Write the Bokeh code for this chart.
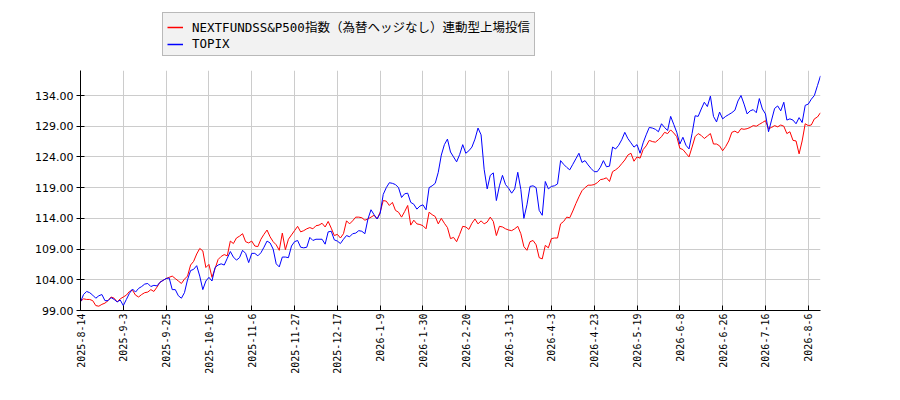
import math

from bokeh.plotting import figure
from bokeh.layouts import column
from bokeh.models import Legend, FixedTicker, PrintfTickFormatter, Range1d
from bokeh.embed import file_html
from bokeh.resources import INLINE

# tick labels on the x axis (one every 14 trading days)
tick_dates = ["2025-8-14", "2025-9-3", "2025-9-25", "2025-10-16", "2025-11-6",
              "2025-11-27", "2025-12-17", "2026-1-9", "2026-1-30", "2026-2-20",
              "2026-3-13", "2026-4-3", "2026-4-23", "2026-5-19", "2026-6-8",
              "2026-6-26", "2026-7-16", "2026-8-6"]
tick_step = 14

y_ticks = [99, 104, 109, 114, 119, 124, 129, 134]

series_names = ["NEXTFUNDSS&P500指数（為替ヘッジなし）連動型上場投信", "TOPIX"]
series_colors = ["#ff0000", "#0000ff"]

# NEXTFUNDS S&P500 (unhedged), rebased
sp500 = [
    100.5, 100.9, 100.8, 100.8, 100.6, 99.8, 99.7, 100.0, 100.2, 100.6, 101.2, 101.0, 100.4, 100.9,
    101.2, 101.5, 102.1, 102.3, 101.5, 101.2, 101.6, 101.9, 102.0, 102.4, 102.1, 102.8, 103.6, 103.9,
    104.2, 104.4, 104.6, 104.2, 103.8, 103.4, 104.1, 104.6, 106.4, 107.0, 108.2, 109.1, 108.7, 106.0,
    106.5, 104.4, 105.8, 107.3, 107.8, 108.1, 107.9, 110.3, 109.9, 110.8, 111.1, 111.5, 110.2, 110.0,
    110.3, 109.5, 109.4, 110.6, 111.4, 112.1, 111.0, 110.2, 109.7, 108.8, 111.6, 108.9, 110.6, 111.3,
    112.0, 112.7, 111.8, 112.0, 112.3, 112.5, 112.3, 112.8, 112.9, 113.2, 112.6, 113.5, 112.4, 111.2,
    111.4, 110.8, 111.5, 113.6, 113.1, 113.6, 114.2, 114.2, 114.1, 113.7, 113.9, 114.2, 114.5, 113.9,
    115.0, 116.9, 116.8, 116.1, 116.6, 115.3, 115.0, 114.2, 115.1, 116.1, 112.9, 113.7, 113.1, 113.0,
    112.8, 112.3, 115.0, 114.6, 114.3, 113.1, 114.0, 113.2, 112.5, 110.7, 110.9, 110.2, 111.4, 112.7,
    112.6, 112.2, 113.2, 113.9, 113.1, 113.6, 113.1, 113.4, 114.2, 113.5, 111.2, 112.7, 112.6, 112.3,
    112.1, 112.0, 112.3, 112.7, 111.5, 109.4, 108.8, 110.2, 110.4, 109.7, 107.6, 107.4, 109.6, 109.2,
    110.7, 110.8, 110.8, 113.1, 113.5, 114.2, 114.1, 115.2, 116.4, 117.5, 118.5, 119.0, 119.4, 119.4,
    119.5, 119.8, 120.3, 120.4, 120.6, 120.0, 121.6, 121.9, 122.3, 122.9, 123.5, 124.3, 124.6, 123.3,
    124.0, 123.8, 125.2, 125.8, 126.7, 126.5, 126.4, 126.8, 127.3, 128.0, 127.8, 128.4, 127.9, 127.3,
    125.4, 125.2, 124.6, 124.0, 125.6, 127.3, 127.8, 127.5, 127.0, 127.4, 127.8, 126.1, 126.1, 125.8,
    125.0, 125.7, 126.6, 128.0, 128.2, 127.9, 128.6, 128.5, 128.6, 128.8, 129.1, 129.0, 129.3, 129.6,
    129.9, 128.6, 128.8, 129.1, 128.9, 129.2, 129.0, 127.8, 128.1, 126.7, 126.6, 124.5, 126.6, 129.4,
    129.1, 129.2, 130.2, 130.5, 131.2,
]

# TOPIX, rebased
topix = [
    100.4, 101.6, 102.1, 101.9, 101.5, 101.0, 101.4, 101.6, 100.6, 100.6, 101.1, 100.8, 100.4, 100.7,
    99.8, 100.8, 101.8, 102.5, 102.0, 102.6, 102.9, 103.3, 103.4, 102.9, 103.1, 103.0, 103.6, 103.9,
    104.2, 104.3, 102.4, 102.4, 101.4, 101.0, 101.9, 104.0, 105.5, 105.7, 106.3, 104.6, 102.4, 103.8,
    104.4, 103.8, 106.0, 106.4, 106.6, 106.4, 107.5, 108.6, 107.7, 107.2, 107.6, 108.8, 108.3, 106.8,
    108.3, 108.3, 107.9, 108.4, 109.3, 110.3, 110.0, 109.0, 106.6, 106.1, 107.7, 107.7, 107.6, 109.5,
    110.2, 110.4, 109.3, 109.2, 109.3, 110.9, 110.4, 110.6, 110.6, 110.6, 109.8, 111.8, 111.9, 110.5,
    110.3, 109.9, 110.6, 111.2, 111.0, 111.5, 111.6, 112.0, 111.9, 111.5, 113.9, 115.4, 114.6, 113.9,
    114.8, 117.9, 119.0, 119.8, 119.7, 119.5, 119.0, 117.4, 118.0, 118.1, 116.6, 116.3, 115.5, 116.0,
    116.2, 115.4, 119.0, 119.3, 119.7, 121.5, 124.3, 126.0, 126.9, 124.8, 124.0, 123.2, 124.4, 126.0,
    124.6, 125.0, 125.6, 126.9, 128.7, 127.6, 122.0, 118.8, 121.0, 121.4, 116.9, 119.3, 121.0, 119.5,
    118.9, 118.1, 118.8, 121.5, 118.7, 114.0, 116.2, 119.2, 119.3, 119.0, 115.3, 114.5, 120.0, 118.8,
    119.2, 119.3, 119.6, 123.4, 122.8, 122.3, 121.9, 122.8, 123.7, 124.6, 123.1, 123.4, 122.7, 122.1,
    121.6, 121.6, 122.3, 123.4, 122.4, 122.5, 125.6, 125.3, 125.9, 126.8, 128.0, 127.0, 126.3, 125.6,
    126.0, 124.6, 126.3, 127.6, 128.8, 128.7, 128.5, 128.1, 129.4, 128.8, 128.3, 130.6, 129.3, 128.0,
    126.1, 127.2, 125.9, 125.3, 127.8, 130.7, 130.6, 131.8, 132.9, 132.2, 133.9, 130.6, 129.7, 131.3,
    130.2, 130.6, 130.9, 131.2, 131.6, 133.1, 134.0, 132.6, 131.0, 131.5, 131.7, 131.2, 133.5, 131.8,
    131.0, 128.1, 130.0, 131.9, 132.3, 131.5, 132.9, 130.0, 130.2, 130.0, 129.4, 130.4, 129.6, 132.4,
    132.6, 133.4, 134.0, 135.6, 137.2,
]

days = list(range(len(sp500)))

# ---------- main chart ----------
p = figure(
    width=880,
    height=318,
    output_backend="svg",
    toolbar_location=None,
    x_range=Range1d(0, len(days) - 1),
    y_range=Range1d(99, 138.07),
    min_border_left=80,
    min_border_right=60,
    min_border_top=8,
    min_border_bottom=70,
)
p.outline_line_color = None
p.background_fill_color = "white"

p.line(days, sp500, line_width=1, color=series_colors[0])
p.line(days, topix, line_width=1, color=series_colors[1])

# x axis: trading-day index, labelled with dates
x_ticks = [i * tick_step for i in range(len(tick_dates))]
p.xaxis.ticker = FixedTicker(ticks=x_ticks)
p.xaxis.major_label_overrides = {t: d for t, d in zip(x_ticks, tick_dates)}
p.xaxis.major_label_orientation = math.pi / 2
p.xaxis.major_label_text_font = "DejaVu Sans Mono"
p.xaxis.major_label_text_font_size = "10px"
p.xaxis.major_label_text_color = "black"
p.xaxis.major_label_standoff = 3
p.xaxis.minor_tick_line_color = None
p.xaxis.major_tick_in = 5
p.xaxis.major_tick_out = 0

p.yaxis.ticker = FixedTicker(ticks=y_ticks)
p.yaxis.formatter = PrintfTickFormatter(format="%.2f")
p.yaxis.major_label_text_font = "DejaVu Sans"
p.yaxis.major_label_text_font_size = "11px"
p.yaxis.major_label_text_color = "black"
p.yaxis.minor_tick_line_color = None
p.yaxis.major_tick_in = 4
p.yaxis.major_tick_out = 4
p.yaxis.major_label_standoff = 3

for ax in (p.xaxis, p.yaxis):
    ax.axis_line_color = "black"
    ax.major_tick_line_color = "black"

p.grid.grid_line_color = "#cccccc"
p.grid.grid_line_width = 1

# ---------- legend strip above the chart ----------
# the strip's y range lies far below the data, so its lines only feed the legend
p_leg = figure(
    width=880,
    height=62,
    output_backend="svg",
    toolbar_location=None,
    min_border=0,
    x_axis_type=None,
    y_axis_type=None,
    x_range=Range1d(0, len(days) - 1),
    y_range=Range1d(0, 1),
)
p_leg.outline_line_color = None
p_leg.grid.visible = False

legend_items = []
for name, color, values in zip(series_names, series_colors, [sp500, topix]):
    r = p_leg.line(days, values, line_width=1.5, color=color)
    legend_items.append((name, [r]))

# the column aligns both frames, so x is measured from the chart's left edge
legend = Legend(items=legend_items, location=(82, 6))
legend.label_text_font = "'DejaVu Sans Mono', 'Noto Sans CJK JP'"
legend.label_text_font_size = "12.5px"
legend.label_text_color = "black"
legend.label_height = 14
legend.glyph_height = 14
legend.glyph_width = 16
legend.label_standoff = 9
legend.spacing = 0
legend.padding = 4
legend.margin = 0
legend.border_line_color = "#808080"
legend.background_fill_color = "#f2f2f2"
legend.background_fill_alpha = 1
p_leg.add_layout(legend)

layout = column(p_leg, p, spacing=0)
open("out.html", "w").write(file_html(layout, INLINE))
